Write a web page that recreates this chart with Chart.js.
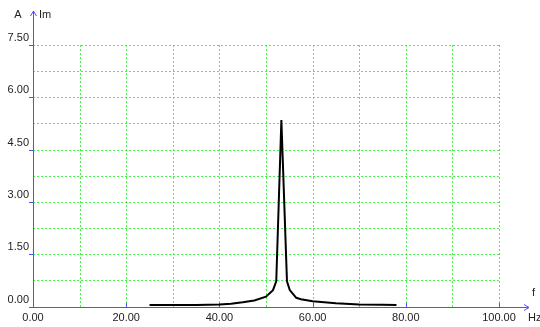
<!DOCTYPE html>
<html>
<head>
<meta charset="utf-8">
<script src="https://cdn.jsdelivr.net/npm/chart.js@4"></script>
<style>
  html, body { margin: 0; padding: 0; background: #fff; }
  #wrap { width: 540px; height: 327px; }
</style>
</head>
<body>
<div id="wrap"><canvas id="chart"></canvas></div>
<script>
/* DATA */
const freq = [25, 30, 35, 40, 42.5, 45, 47.5, 50, 51.5, 52.2, 53.3, 54.5, 55.1, 56.5, 57.5, 60, 62.5, 65, 70, 75, 78];
const amp  = [0.04, 0.04, 0.045, 0.06, 0.08, 0.12, 0.17, 0.28, 0.47, 0.72, 5.35, 0.72, 0.47, 0.25, 0.21, 0.15, 0.12, 0.09, 0.06, 0.05, 0.04];
const xTicks = [0, 20, 40, 60, 80, 100];
const yTicks = [0, 1.5, 3, 4.5, 6, 7.5];

const AXIS = "#5050ff";
const GRID = "#4cf04c";
const FONT = "11px 'Liberation Sans', Arial, sans-serif";

/* GRID (dotted, pixel aligned) */
const gridPlugin = {
  id: "dotgrid",
  beforeDatasetsDraw(chart) {
    const ctx = chart.ctx, a = chart.chartArea;
    const x = chart.scales.x, y = chart.scales.y;
    ctx.save();
    ctx.strokeStyle = GRID;
    ctx.lineWidth = 1;
    ctx.setLineDash([2, 2]);
    ctx.beginPath();
    x.ticks.forEach(t => {
      const p = Math.round(x.getPixelForValue(t.value)) + 0.5;
      ctx.moveTo(p, Math.round(a.top));
      ctx.lineTo(p, Math.round(a.bottom));
    });
    y.ticks.forEach(t => {
      const p = Math.round(y.getPixelForValue(t.value)) + 0.5;
      ctx.moveTo(Math.round(a.left), p);
      ctx.lineTo(Math.round(a.right), p);
    });
    ctx.stroke();
    ctx.restore();
  }
};

/* AXES + ARROWS + LABELS */
const axesPlugin = {
  id: "axes",
  beforeDatasetsDraw(chart) {
    const ctx = chart.ctx;
    const x = chart.scales.x, y = chart.scales.y;
    const x0 = Math.round(x.getPixelForValue(0));
    const y0 = Math.round(y.getPixelForValue(0));
    ctx.save();
    ctx.strokeStyle = AXIS;
    ctx.lineWidth = 1;
    ctx.beginPath();
    // y axis
    ctx.moveTo(x0 + 0.5, y0);
    ctx.lineTo(x0 + 0.5, 11);
    ctx.moveTo(x0 - 2.5, 16);
    ctx.lineTo(x0 + 0.5, 11);
    ctx.lineTo(x0 + 3.5, 16);
    // x axis
    ctx.moveTo(x0, y0 + 0.5);
    ctx.lineTo(529, y0 + 0.5);
    ctx.moveTo(524, y0 - 2.5);
    ctx.lineTo(529, y0 + 0.5);
    ctx.lineTo(524, y0 + 3.5);
    // ticks
    xTicks.forEach(v => {
      const p = Math.round(x.getPixelForValue(v)) + 0.5;
      ctx.moveTo(p, y0);
      ctx.lineTo(p, y0 - 4);
    });
    yTicks.forEach(v => {
      const p = Math.round(y.getPixelForValue(v)) + 0.5;
      ctx.moveTo(x0 - 4, p);
      ctx.lineTo(x0, p);
    });
    ctx.stroke();

    ctx.fillStyle = "#222";
    ctx.font = FONT;
    ctx.textBaseline = "middle";
    ctx.textAlign = "center";
    ctx.fillText("A", 18, 15);
    ctx.textAlign = "left";
    ctx.fillText("Im", 39, 15);
    ctx.fillText("f", 532, 293);
    ctx.fillText("Hz", 528, 318);
    ctx.restore();
  }
};

new Chart(document.getElementById("chart"), {
  type: "line",
  data: {
    datasets: [{
      data: freq.map((f, i) => ({ x: f, y: amp[i] })),
      borderColor: "#000",
      borderWidth: 2,
      pointRadius: 0,
      tension: 0,
      fill: false
    }]
  },
  options: {
    responsive: true,
    maintainAspectRatio: false,
    animation: false,
    layout: { padding: { left: 0, right: 41, top: 45, bottom: 0 } },
    plugins: { legend: { display: false }, tooltip: { enabled: false } },
    scales: {
      x: {
        type: "linear",
        min: 0, max: 100,
        afterFit(s) { s.height = 20.5; },
        border: { display: false },
        grid: { drawOnChartArea: false, drawTicks: false },
        ticks: {
          stepSize: 10,
          padding: 5,
          maxRotation: 0,
          autoSkip: false,
          color: "#222",
          font: { family: "'Liberation Sans', Arial, sans-serif", size: 11 },
          callback: v => (v % 20 === 0 ? v.toFixed(2) : "")
        }
      },
      y: {
        min: 0, max: 7.5,
        afterFit(s) { s.width = 33; },
        border: { display: false },
        grid: { drawOnChartArea: false, drawTicks: false },
        ticks: {
          stepSize: 0.75,
          padding: 4,
          labelOffset: -7,
          autoSkip: false,
          color: "#222",
          font: { family: "'Liberation Sans', Arial, sans-serif", size: 11 },
          callback: v => (Math.abs(v / 1.5 - Math.round(v / 1.5)) < 1e-6 ? v.toFixed(2) : "")
        }
      }
    }
  },
  plugins: [gridPlugin, axesPlugin]
});
</script>
</body>
</html>
